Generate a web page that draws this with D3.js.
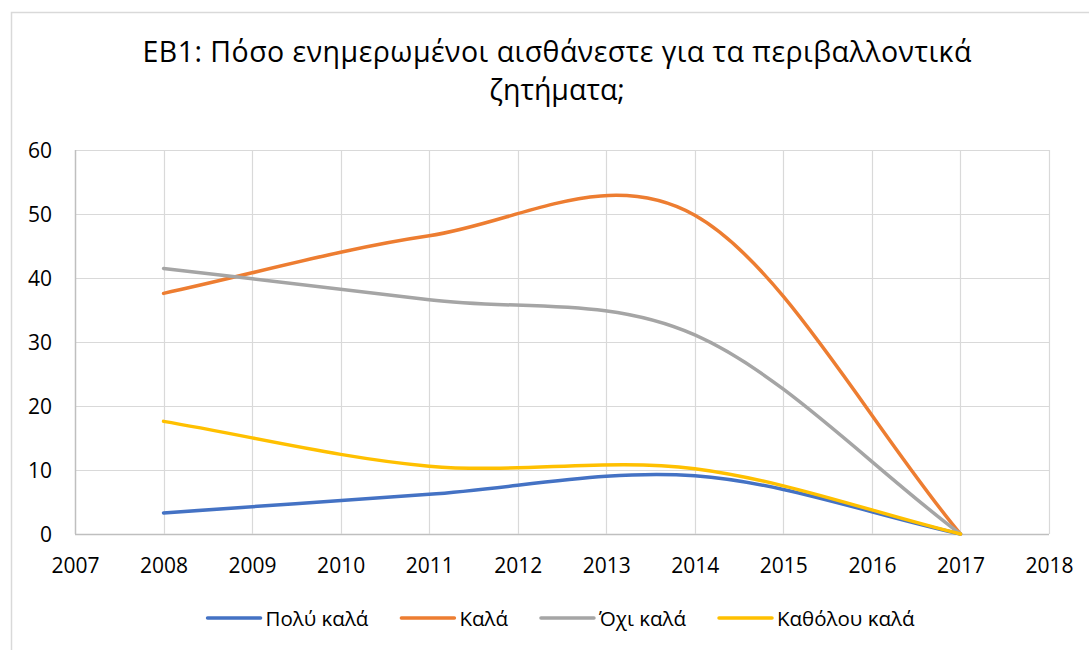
<!DOCTYPE html>
<html>
<head>
<meta charset="utf-8">
<script src="https://cdn.jsdelivr.net/npm/d3@7"></script>
<style>
  body { margin: 0; background: #fff; }
  text { font-family: "Open Sans", "Noto Sans", sans-serif; fill: #000; }
</style>
</head>
<body>
<div id="chart"></div>
<script>
// Data
const years = [2008, 2011, 2014, 2017];
const seriesNames = ['Πολύ καλά', 'Καλά', 'Όχι καλά', 'Καθόλου καλά'];
const veryWell = [3.3, 6.2, 9.1, 0];
const well = [37.6, 46.6, 49.8, 0];
const notWell = [41.5, 36.6, 31.1, 0];
const notAtAll = [17.6, 10.6, 10.2, 0];
const seriesColors = ['#4472C4', '#ED7D31', '#A5A5A5', '#FFC000'];
const yTicks = [0, 10, 20, 30, 40, 50, 60];
const xTicks = [2007, 2008, 2009, 2010, 2011, 2012, 2013, 2014, 2015, 2016, 2017, 2018];
const titleLines = ['ΕΒ1: Πόσο ενημερωμένοι αισθάνεστε για τα περιβαλλοντικά', 'ζητήματα;'];

const width = 1089, height = 650;
const plot = { left: 75, right: 1049, top: 150, bottom: 534 };

// Smoothed line similar to the spreadsheet one: Catmull-Rom inside, chord tangents at the ends
function SmoothCurve(context) { this._context = context; }
SmoothCurve.prototype = {
    areaStart() { this._line = 0; },
    areaEnd() { this._line = NaN; },
    lineStart() { this._x = []; this._y = []; },
    point(x, y) { this._x.push(+x); this._y.push(+y); },
    lineEnd() {
        const xs = this._x, ys = this._y, n = xs.length;
        if (n === 0) return;
        this._context.moveTo(xs[0], ys[0]);
        if (n === 1) return;
        const tx = [], ty = [];
        for (let i = 0; i < n; i++) {
            if (i === 0) { tx.push(xs[1] - xs[0]); ty.push(ys[1] - ys[0]); }
            else if (i === n - 1) { tx.push(xs[i] - xs[i - 1]); ty.push(ys[i] - ys[i - 1]); }
            else { tx.push((xs[i + 1] - xs[i - 1]) / 2); ty.push((ys[i + 1] - ys[i - 1]) / 2); }
        }
        for (let i = 0; i < n - 1; i++) {
            this._context.bezierCurveTo(
                xs[i] + tx[i] / 3, ys[i] + ty[i] / 3,
                xs[i + 1] - tx[i + 1] / 3, ys[i + 1] - ty[i + 1] / 3,
                xs[i + 1], ys[i + 1]);
        }
    }
};
const curveSmooth = context => new SmoothCurve(context);

const svg = d3.select('#chart')
    .append('svg')
    .attr('width', width)
    .attr('height', height);

// Outer chart border (right and bottom edges fall outside the picture)
svg.append('path')
    .attr('d', `M11.5,${height}V12.5H${width}`)
    .attr('fill', 'none')
    .attr('stroke', '#d9d9d9')
    .attr('stroke-width', 1.5);

// Title
svg.append('text')
    .attr('text-anchor', 'middle')
    .style('font-size', '28.5px')
    .selectAll('tspan')
    .data(titleLines)
    .enter()
    .append('tspan')
    .attr('x', 557)
    .attr('y', (d, i) => 62 + i * 38)
    .attr('textLength', (d, i) => i === 0 ? 829 : null)
    .attr('lengthAdjust', 'spacing')
    .text(d => d);

const x = d3.scaleLinear()
    .domain([2007, 2018])
    .range([plot.left, plot.right]);

const y = d3.scaleLinear()
    .domain([0, 60])
    .range([plot.bottom, plot.top]);

// Gridlines
const grid = svg.append('g').attr('class', 'grid');
grid.selectAll('line.h')
    .data(yTicks)
    .enter()
    .append('line')
    .attr('class', 'h')
    .attr('x1', x(2007))
    .attr('x2', x(2018))
    .attr('y1', d => Math.round(y(d)) + 0.5)
    .attr('y2', d => Math.round(y(d)) + 0.5)
    .attr('stroke', d => d === 0 ? '#bfbfbf' : '#d9d9d9')
    .attr('stroke-width', d => d === 0 ? 1.5 : 1.2);

grid.selectAll('line.v')
    .data(xTicks)
    .enter()
    .append('line')
    .attr('class', 'v')
    .attr('x1', d => Math.round(x(d)) + 0.5)
    .attr('x2', d => Math.round(x(d)) + 0.5)
    .attr('y1', y(60))
    .attr('y2', y(0))
    .attr('stroke', d => d === 2007 ? '#bfbfbf' : '#d9d9d9')
    .attr('stroke-width', d => d === 2007 ? 1.5 : 1.2);

// Axis labels
const yAxis = svg.append('g')
    .attr('transform', `translate(${x(2007)},0)`)
    .call(d3.axisLeft(y).tickValues(yTicks).tickSize(0).tickPadding(23).tickFormat(d3.format('d')));
yAxis.select('.domain').remove();
yAxis.attr('font-family', null).attr('font-size', null);
yAxis.selectAll('text')
    .attr('dy', null)
    .attr('y', 7.5)
    .style('font-size', '21px')
    .attr('fill', '#000');

const xAxis = svg.append('g')
    .attr('transform', `translate(0,${y(0)})`)
    .call(d3.axisBottom(x).tickValues(xTicks).tickSize(0).tickFormat(d3.format('d')));
xAxis.select('.domain').remove();
xAxis.attr('font-family', null).attr('font-size', null);
xAxis.selectAll('text')
    .attr('dy', null)
    .attr('y', 39)
    .style('font-size', '21px')
    .attr('fill', '#000');

// Series
const seriesValues = [veryWell, well, notWell, notAtAll];
const line = d3.line()
    .x(d => x(d[0]))
    .y(d => y(d[1]))
    .curve(curveSmooth);

// later series drawn on top, as in the reference
seriesValues.forEach((values, i) => {
    svg.append('path')
        .attr('d', line(years.map((yr, j) => [yr, values[j]])))
        .attr('fill', 'none')
        .attr('stroke', seriesColors[i])
        .attr('stroke-width', 3.5)
        .attr('stroke-linecap', 'round')
        .attr('stroke-linejoin', 'round');
});

// Legend, laid out from measured text widths and centred under the plot
const legend = svg.append('g').attr('class', 'legend');
const items = seriesNames.map((name, i) => {
    const item = legend.append('g');
    item.append('line')
        .attr('x1', 0)
        .attr('x2', 53)
        .attr('y1', 0)
        .attr('y2', 0)
        .attr('stroke', seriesColors[i])
        .attr('stroke-width', 3.5)
        .attr('stroke-linecap', 'round');
    const t = item.append('text')
        .attr('x', 58)
        .attr('y', 7.5)
        .style('font-size', '20.5px')
        .text(name);
    return { item, w: 58 + t.node().getComputedTextLength() };
});
const gap = 33;
const total = d3.sum(items, d => d.w) + gap * (items.length - 1);
let cx = 561 - total / 2;
items.forEach(d => {
    d.item.attr('transform', `translate(${cx},618)`);
    cx += d.w + gap;
});
</script>
</body>
</html>
